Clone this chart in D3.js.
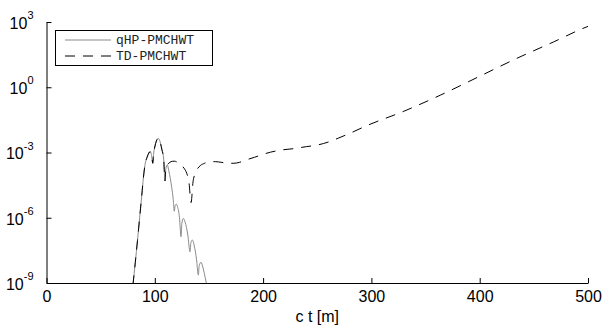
<!DOCTYPE html>
<html>
<head>
<meta charset="utf-8">
<script src="https://cdn.jsdelivr.net/npm/d3@7/dist/d3.min.js"></script>
<style>
  body { margin: 0; background: #fff; }
  svg { display: block; }
</style>
</head>
<body>
<div id="chart"></div>
<script>
// shared part of both runs (ct in metres, value)
const ctShared  = [79.8, 82, 84, 86, 88, 89.5, 91, 93, 94.5, 95.6, 96.8, 97.6, 98.1, 98.8, 100, 101.5, 103.2, 104.8, 106.5, 108.2, 109.4, 110.2, 111.5];
const valShared = [7.9e-10, 8.9e-9, 8.9e-8, 1.0e-6, 1.1e-5, 7.1e-5, 2.8e-4, 6.3e-4, 9.5e-4, 1.1e-3, 8.3e-4, 4.5e-4, 3.2e-4, 7.9e-4, 1.8e-3, 3.4e-3, 4.5e-3, 3.2e-3, 1.4e-3, 5.0e-4, 5.0e-5, 1.8e-4, 2.7e-4];

// qHP-PMCHWT tail
const ctQhp  = [113, 115.6, 117, 118, 118.7, 119.8, 121, 122.8, 124.2, 125, 126.3, 128, 130.5, 132.5, 133.3, 134.6, 136.5, 138.5, 140.2, 141, 142.7, 144.5, 146.5, 148];
const valQhp = [1.4e-4, 2.5e-5, 7.1e-6, 2.0e-6, 3.5e-6, 4.2e-6, 3.2e-6, 1.0e-6, 1.35e-7, 5.6e-7, 9.3e-7, 6.3e-7, 1.6e-7, 2.75e-8, 7.1e-8, 9.5e-8, 5.0e-8, 1.26e-8, 2.3e-9, 6.3e-9, 8.9e-9, 5.0e-9, 1.8e-9, 7.9e-10];

// TD-PMCHWT tail
const ctTd  = [113, 115, 118, 121, 124, 127, 129.5, 131.5, 133.5, 135.3, 137, 139, 142, 146, 151, 156, 162, 168, 173, 178, 184, 192, 202, 215, 228, 240, 250, 260, 270, 280, 296, 330, 364, 400, 434, 468, 495, 500];
const valTd = [3.2e-4, 3.8e-4, 4.0e-4, 3.5e-4, 2.7e-4, 1.9e-4, 1.1e-4, 4.5e-5, 5.0e-6, 4.5e-5, 1.0e-4, 1.66e-4, 2.5e-4, 3.2e-4, 3.7e-4, 3.8e-4, 3.5e-4, 3.2e-4, 3.2e-4, 3.5e-4, 4.5e-4, 6.0e-4, 8.9e-4, 1.26e-3, 1.5e-3, 1.86e-3, 2.2e-3, 3.0e-3, 4.7e-3, 7.6e-3, 1.74e-2, 7.9e-2, 0.44, 3.2, 21, 120, 500, 630];

const xTicks = [0, 100, 200, 300, 400, 500];
const yTicks = [1e-9, 1e-6, 1e-3, 1, 1e3];
const seriesNames = ['qHP-PMCHWT', 'TD-PMCHWT'];

const width = 603, height = 329;
const margin = { top: 22, right: 15, bottom: 46, left: 46.5 };

const svg = d3.select('#chart')
  .append('svg')
  .attr('width', width)
  .attr('height', height);

const x = d3.scaleLinear().domain([0, 500]).range([margin.left, width - margin.right]);
const y = d3.scaleLog().domain([1e-9, 1e3]).range([height - margin.bottom, margin.top]);

// clip so the curves stop at the axes
svg.append('clipPath').attr('id', 'plot')
  .append('rect')
  .attr('x', margin.left).attr('y', margin.top)
  .attr('width', width - margin.left - margin.right)
  .attr('height', height - margin.top - margin.bottom);

const zip = (a, b) => a.map((d, i) => ({ ct: d, v: b[i] }));
const shared = zip(ctShared, valShared);
const qhp = shared.concat(zip(ctQhp, valQhp));
const td = shared.concat(zip(ctTd, valTd));

const line = d3.line()
  .x(d => x(d.ct))
  .y(d => y(d.v))
  .curve(d3.curveMonotoneX);

const g = svg.append('g').attr('clip-path', 'url(#plot)');

g.append('path')
  .datum(qhp)
  .attr('fill', 'none')
  .attr('stroke', '#8a8a8a')
  .attr('stroke-width', 1)
  .attr('d', line);

g.append('path')
  .datum(td)
  .attr('fill', 'none')
  .attr('stroke', '#000')
  .attr('stroke-width', 1)
  .attr('stroke-dasharray', '10,8')
  .attr('d', line);

// axes
const xAxis = svg.append('g')
  .attr('transform', `translate(0,${height - margin.bottom})`)
  .call(d3.axisBottom(x).tickValues(xTicks).tickSizeInner(-5).tickSizeOuter(0).tickPadding(8));

xAxis.selectAll('text')
  .attr('font-family', '"Liberation Sans", Arial, sans-serif')
  .attr('font-size', 16)
  .attr('fill', '#000');

const yAxis = svg.append('g')
  .attr('transform', `translate(${margin.left},0)`)
  .call(d3.axisLeft(y).tickValues(yTicks).tickSizeInner(-5).tickSizeOuter(0).tickPadding(13).tickFormat(() => ''));

yAxis.selectAll('.tick text')
  .attr('font-family', '"Liberation Sans", Arial, sans-serif')
  .attr('font-size', 16)
  .attr('fill', '#000')
  .attr('dy', '0.4em')
  .each(function (d) {
    const t = d3.select(this);
    t.text('');
    t.append('tspan').text('10');
    t.append('tspan')
      .attr('font-size', 11)
      .attr('dy', '-0.9em')
      .text(Math.round(Math.log10(d)));
  });

svg.selectAll('.domain, .tick line').attr('stroke', '#000').attr('stroke-width', 1);

// x label
svg.append('text')
  .attr('x', (margin.left + width - margin.right) / 2)
  .attr('y', 322)
  .attr('text-anchor', 'middle')
  .attr('font-family', '"Liberation Sans", Arial, sans-serif')
  .attr('font-size', 16)
  .text('c t [m]');

// legend
const legend = svg.append('g');
legend.append('rect')
  .attr('x', 55.5).attr('y', 30.5)
  .attr('width', 157).attr('height', 35)
  .attr('fill', '#fff')
  .attr('stroke', '#000')
  .attr('stroke-width', 1);

const legStyles = [
  { stroke: '#8a8a8a', dash: null },
  { stroke: '#000', dash: '10,8' }
];

seriesNames.forEach((name, i) => {
  const ly = 40 + i * 16;
  legend.append('line')
    .attr('x1', 65).attr('x2', 111)
    .attr('y1', ly).attr('y2', ly)
    .attr('stroke', legStyles[i].stroke)
    .attr('stroke-width', 1)
    .attr('stroke-dasharray', legStyles[i].dash);
  legend.append('text')
    .attr('x', 116)
    .attr('y', ly + 4)
    .attr('font-family', '"Liberation Mono", "Courier New", monospace')
    .attr('font-size', 13)
    .attr('fill', '#222')
    .text(name);
});
</script>
</body>
</html>
